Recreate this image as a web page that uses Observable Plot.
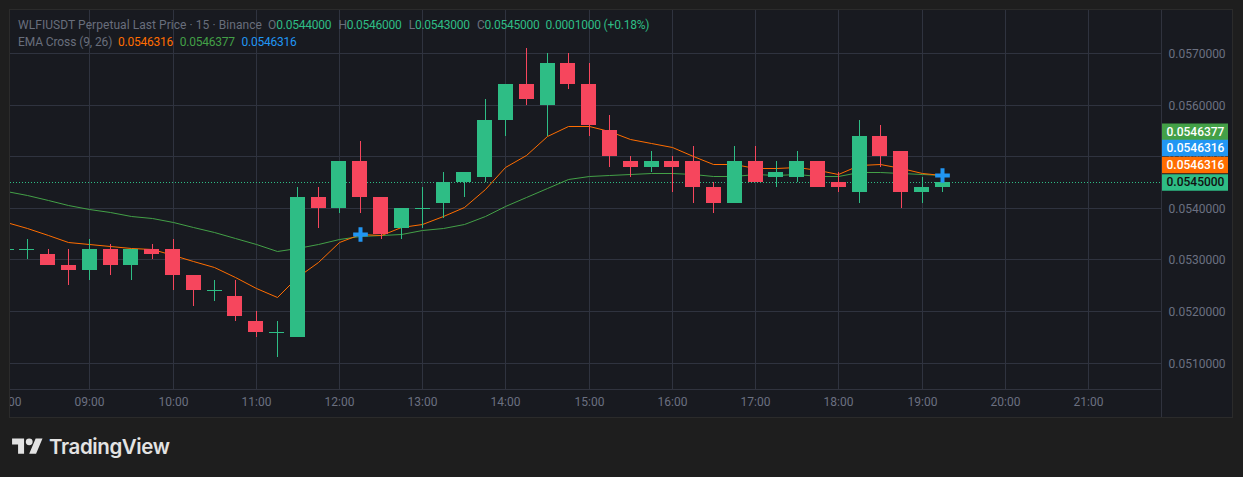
<!DOCTYPE html>
<html>
<head>
<meta charset="utf-8">
<script src="https://cdn.jsdelivr.net/npm/d3@7"></script>
<script src="https://cdn.jsdelivr.net/npm/@observablehq/plot@0.6"></script>
<style>
html,body{margin:0;padding:0;background:#1e1e1e;width:1243px;height:477px;overflow:hidden}
#panel{position:absolute;left:9px;top:9px;width:1222px;height:407px;background:#181a20;border:1px solid #2b2b2b;z-index:0}
#chart{position:absolute;left:0;top:0;z-index:1}
#chart svg{background:transparent;display:block}
#legend{position:absolute;left:18px;top:17px;z-index:2;font:12px/17px Roboto,sans-serif;color:#686e7c;white-space:pre}
#legend .l1{letter-spacing:.06px}
#legend .l2{letter-spacing:-.1px}
#legend span span{letter-spacing:-.25px;margin-left:0}
#legend .m{margin-left:1.1px}
#legend span .w{letter-spacing:-.2px}
#logo{position:absolute;left:12px;top:435px;z-index:2;display:flex;color:#e3e3e3}
#brand{position:absolute;left:49px;top:433px;z-index:2;font:600 20.5px/28px Inter,sans-serif;letter-spacing:-.4px;color:#e3e3e3}
.g{color:#2ebd85}.o{color:#ff6d00}.e{color:#43a047}.b{color:#2196f3}
</style>
</head>
<body>
<div id="panel"></div>
<div id="chart"></div>
<div id="legend"><span class="l1">WLFIUSDT Perpetual Last Price · 15 · Binance  O<span class="g">0.0544000</span>  <span class="m">H</span><span class="g">0.0546000</span>  <span class="m">L</span><span class="g">0.0543000</span>  <span class="m">C</span><span class="g">0.0545000</span>  <span class="g w">0.0001000 (+0.18%)</span></span>
<span class="l2">EMA Cross (9, 26)  <span class="o">0.0546316</span>  <span class="e m">0.0546377</span>  <span class="b m">0.0546316</span></span></div>
<svg id="logo" width="31" height="24" viewBox="0 0 36 28" fill="currentColor"><path d="M14 22H7V11H0V4h14v18zM28 22h-8l7.5-18h8L28 22z"/><circle cx="20" cy="8" r="4"/></svg>
<div id="brand">TradingView</div>
<script>
const times = ["08:00","08:15","08:30","08:45","09:00","09:15","09:30","09:45","10:00","10:15","10:30","10:45","11:00","11:15","11:30","11:45","12:00","12:15","12:30","12:45","13:00","13:15","13:30","13:45","14:00","14:15","14:30","14:45","15:00","15:15","15:30","15:45","16:00","16:15","16:30","16:45","17:00","17:15","17:30","17:45","18:00","18:15","18:30","18:45","19:00","19:15"];
const opens  = [.0532,.0532,.0531,.0529,.0528,.0532,.0529,.0532,.0532,.0527,.0524,.0523,.0518,.0516,.0515,.0542,.0540,.0549,.0542,.0536,.0540,.0541,.0545,.0546,.0557,.0564,.0560,.0568,.0564,.0555,.0549,.0548,.0549,.0549,.0544,.0541,.0549,.0546,.0546,.0549,.0545,.0543,.0554,.0551,.0543,.0544];
const highs  = [.0532,.0534,.0532,.0532,.0534,.0533,.0532,.0533,.0534,.0527,.0526,.0526,.0520,.0518,.0544,.0544,.0549,.0553,.0542,.0540,.0544,.0547,.0547,.0561,.0564,.0571,.0570,.0570,.0568,.0558,.0550,.0551,.0550,.0552,.0545,.0552,.0552,.0549,.0551,.0549,.0547,.0557,.0556,.0551,.0546,.0546];
const lows   = [.0532,.0530,.0529,.0525,.0526,.0527,.0526,.0530,.0524,.0521,.0522,.0518,.0515,.0511,.0515,.0536,.0539,.0539,.0534,.0534,.0536,.0538,.0542,.0545,.0554,.0560,.0554,.0563,.0554,.0548,.0546,.0547,.0543,.0541,.0539,.0541,.0545,.0544,.0545,.0544,.0543,.0541,.0548,.0540,.0541,.0543];
const closes = [.0532,.0532,.0529,.0528,.0532,.0529,.0532,.0531,.0527,.0524,.0524,.0519,.0516,.0516,.0542,.0540,.0549,.0542,.0535,.0540,.0540,.0545,.0547,.0557,.0564,.0561,.0568,.0564,.0556,.0550,.0548,.0549,.0548,.0544,.0541,.0549,.0545,.0547,.0549,.0544,.0544,.0554,.0550,.0543,.0544,.0545];
const fastEma = [.05373,.05361,.05348,.05334,.05329,.05325,.05322,.05321,.05309,.05296,.05286,.05266,.05245,.05228,.05266,.05294,.05334,.05350,.05348,.05363,.05369,.05385,.05402,.05437,.05480,.05503,.05540,.05559,.05559,.05548,.05534,.05526,.05517,.05501,.05484,.05485,.05478,.05478,.05480,.05474,.05466,.05482,.05485,.05478,.05468,.0546316];
const slowEma = [.05432,.05425,.05416,.05406,.05398,.05391,.05385,.05381,.05373,.05363,.05354,.05342,.05329,.05317,.05323,.05329,.05340,.05346,.05348,.05350,.05356,.05361,.05369,.05385,.05404,.05420,.05439,.05455,.05462,.05464,.05466,.05468,.05468,.05466,.05462,.05462,.05466,.05464,.05466,.05462,.05462,.05470,.05470,.05468,.05466,.0546377];
const hourLabels = ["08:00","09:00","10:00","11:00","12:00","13:00","14:00","15:00","16:00","17:00","18:00","19:00","20:00","21:00"];
const priceTicks = [.051,.052,.053,.054,.055,.056,.057];
const crossTimes = ["12:15","19:15"];
const crossPrices = [.0535,.0546316];
const lastClose = .0545;
const tagValues = [.0546377,.0546316,.0546316,.0545];
const tagColors = ["#43a047","#2196f3","#ff6d00","#2ebd85"];
const tagInk = ["#fff","#fff","#fff","#111"];
const tagShift = [-43.7,-27.5,-10.5,0];

const UP = "#2ebd85", DOWN = "#f6465d", GRID = "#2f333f", AXIS = "#6b7080";
const T = s => new Date(`2025-01-01T${s}:00Z`);
const shift = (d, min) => new Date(+d + min * 60000);
const xStart = new Date("2025-01-01T08:02:50Z"), xEnd = new Date("2025-01-01T21:52:38Z");
const yMin = .050494, yMax = .057839;
const halfBody = 5.4; // minutes

const candles = times.map((t, i) => ({t: T(t), o: opens[i], h: highs[i], l: lows[i], c: closes[i], up: closes[i] >= opens[i]}));
const colorOf = d => d.up ? UP : DOWN;
const line = (vals, stroke) => Plot.line(vals.map((v, i) => ({t: T(times[i]), v})), {x: "t", y: "v", stroke, strokeWidth: 1, clip: true});

const marks = [
  Plot.ruleX(hourLabels.slice(1).map(T), {y1: yMin, y2: yMax, stroke: GRID}),
  Plot.ruleY(priceTicks, {x1: xStart, x2: xEnd, stroke: GRID}),
  Plot.ruleY([yMin], {x1: xStart, x2: xEnd, stroke: "#30333e"}),
  Plot.ruleX([xEnd], {stroke: "#30333e"}),
  Plot.ruleY([lastClose], {x1: xStart, x2: xEnd, stroke: UP, strokeDasharray: "1,2"}),
  line(slowEma, "#43a047"),
  line(fastEma, "#ff6d00"),
  Plot.ruleX(candles, {x: "t", y1: "l", y2: "h", stroke: colorOf, clip: true}),
  Plot.rect(candles, {x1: d => shift(d.t, -halfBody), x2: d => shift(d.t, halfBody), y1: "o", y2: "c", fill: colorOf, clip: true}),
  Plot.ruleY(candles.filter(d => d.o === d.c), {y: "c", x1: d => shift(d.t, -halfBody), x2: d => shift(d.t, halfBody), stroke: colorOf, clip: true}),
  Plot.dot(crossTimes.map((t, i) => ({t: T(t), v: crossPrices[i]})), {x: "t", y: "v", symbol: "plus", r: 4.8, stroke: "#2196f3", strokeWidth: 4}),
  Plot.text(hourLabels, {x: T, text: d => d, frameAnchor: "bottom", dy: -15, lineAnchor: "middle", fill: AXIS, fontSize: 12, fontFamily: "Roboto, sans-serif", clip: true}),
  Plot.text(priceTicks, {x: () => xEnd, y: d => d, text: d => d.toFixed(7), dx: 7, dy: 0.5, textAnchor: "start", fill: AXIS, fontSize: 12, fontFamily: "Roboto, sans-serif"})
];
tagValues.forEach((v, i) => {
  marks.push(
    Plot.ruleY([v], {x1: shift(xEnd, 1), x2: shift(xEnd, 48.5), dy: tagShift[i], stroke: tagColors[i], strokeWidth: 16.6}),
    Plot.text([v], {x: () => xEnd, y: d => d, text: d => d.toFixed(7), dx: 34, dy: tagShift[i], fill: tagInk[i], fontSize: 12, fontWeight: 500, fontFamily: "Roboto, sans-serif"})
  );
});

const plot = Plot.plot({
  width: 1243, height: 477,
  marginLeft: 10, marginRight: 82, marginTop: 10, marginBottom: 60,
  style: {background: "transparent"},
  x: {type: "utc", domain: [xStart, xEnd], range: [10, 1161], round: true, axis: null},
  y: {domain: [yMin, yMax], range: [388.7, 9.7], round: true, axis: null},
  marks
});
document.getElementById("chart").append(plot);
</script>
</body>
</html>
